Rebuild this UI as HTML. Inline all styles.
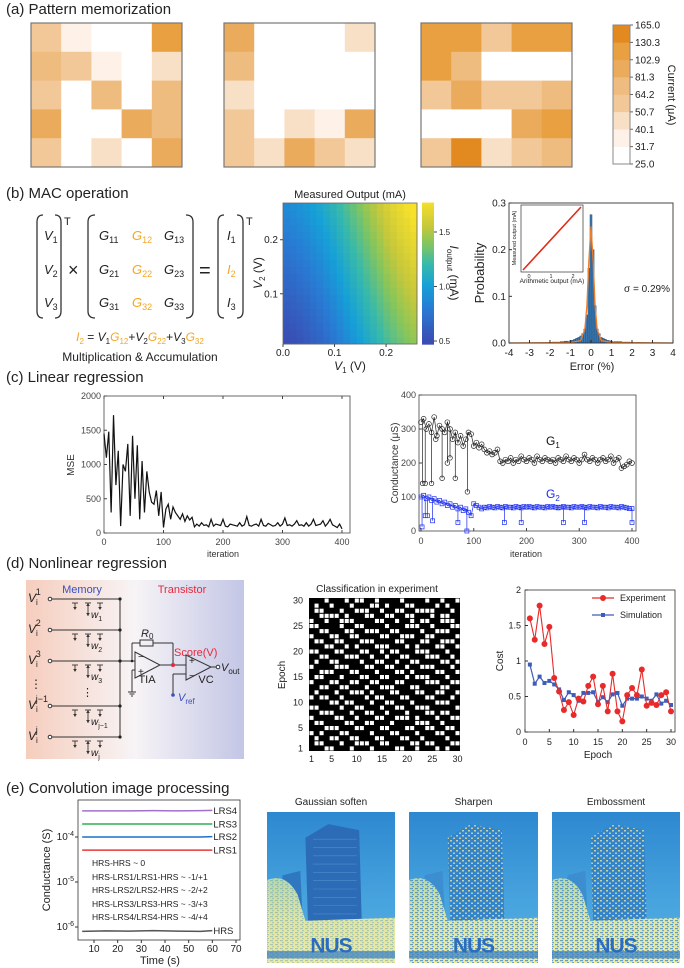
<!DOCTYPE html>
<html><head><meta charset="utf-8">
<style>
body{margin:0;background:#fff;width:684px;height:968px;overflow:hidden}
svg{display:block;font-family:"Liberation Sans",sans-serif}
</style></head>
<body>
<svg id="fig" width="684" height="968" viewBox="0 0 684 968">
<defs>
  <linearGradient id="circBg" x1="0" x2="1" y1="0" y2="0">
    <stop offset="0" stop-color="#f6cdbd"/><stop offset="0.5" stop-color="#f7f4f6"/><stop offset="1" stop-color="#c3c6e6"/>
  </linearGradient>
  <linearGradient id="sky" x1="0" x2="0" y1="0" y2="1">
    <stop offset="0" stop-color="#2e88d0"/><stop offset="0.6" stop-color="#48a4de"/><stop offset="1" stop-color="#58b0e2"/>
  </linearGradient>
  <linearGradient id="ground" x1="0" x2="0" y1="0" y2="1">
    <stop offset="0" stop-color="#b8d8a8"/><stop offset="0.5" stop-color="#e2e6a0"/><stop offset="1" stop-color="#eeeaa0"/>
  </linearGradient>
  <pattern id="speck" width="6" height="5" patternUnits="userSpaceOnUse">
    <rect x="0" y="0" width="2" height="1.5" fill="#f0eaa0"/><rect x="3" y="2.5" width="2" height="1.5" fill="#e8e496"/>
  </pattern>
  <pattern id="speck2" width="5" height="4" patternUnits="userSpaceOnUse">
    <rect x="0" y="0" width="3" height="1.2" fill="#3a86cc"/><rect x="2" y="2" width="2" height="1.2" fill="#4a90cc"/>
  </pattern>
</defs>

<text x="6" y="14" font-size="15" fill="#222">(a) Pattern memorization</text>
<text x="6" y="198" font-size="15" fill="#222">(b) MAC operation</text>
<text x="6" y="382" font-size="15" fill="#222">(c) Linear regression</text>
<text x="6" y="568" font-size="15" fill="#222">(d) Nonlinear regression</text>
<text x="6" y="793" font-size="15" fill="#222">(e) Convolution image processing</text>

<g id="panelA"></g>
<text transform="translate(668,95) rotate(90)" text-anchor="middle" font-size="11" fill="#222">Current (μA)</text>

<g fill="#222" font-size="13">
  <path d="M43 215 Q37 215 37 222 L37 311 Q37 318 43 318" fill="none" stroke="#333" stroke-width="1.3"/>
  <path d="M55 215 Q61 215 61 222 L61 311 Q61 318 55 318" fill="none" stroke="#333" stroke-width="1.3"/>
  <text x="44" y="240" font-style="italic">V<tspan font-size="9" dy="3" font-style="normal">1</tspan></text>
  <text x="44" y="274" font-style="italic">V<tspan font-size="9" dy="3" font-style="normal">2</tspan></text>
  <text x="44" y="307" font-style="italic">V<tspan font-size="9" dy="3" font-style="normal">3</tspan></text>
  <text x="64" y="225" font-size="11">T</text>
  <text x="68" y="276" font-size="18">×</text>
  <path d="M95 215 Q88 215 88 222 L88 311 Q88 318 95 318" fill="none" stroke="#333" stroke-width="1.3"/>
  <path d="M186 215 Q193 215 193 222 L193 311 Q193 318 186 318" fill="none" stroke="#333" stroke-width="1.3"/>
  <text x="99" y="240" font-style="italic">G<tspan font-size="9" dy="3" font-style="normal">11</tspan></text>
  <text x="132" y="240" font-style="italic" fill="#f5a623">G<tspan font-size="9" dy="3" font-style="normal">12</tspan></text>
  <text x="164" y="240" font-style="italic">G<tspan font-size="9" dy="3" font-style="normal">13</tspan></text>
  <text x="99" y="274" font-style="italic">G<tspan font-size="9" dy="3" font-style="normal">21</tspan></text>
  <text x="132" y="274" font-style="italic" fill="#f5a623">G<tspan font-size="9" dy="3" font-style="normal">22</tspan></text>
  <text x="164" y="274" font-style="italic">G<tspan font-size="9" dy="3" font-style="normal">23</tspan></text>
  <text x="99" y="307" font-style="italic">G<tspan font-size="9" dy="3" font-style="normal">31</tspan></text>
  <text x="132" y="307" font-style="italic" fill="#f5a623">G<tspan font-size="9" dy="3" font-style="normal">32</tspan></text>
  <text x="164" y="307" font-style="italic">G<tspan font-size="9" dy="3" font-style="normal">33</tspan></text>
  <text x="199" y="277" font-size="20">=</text>
  <path d="M224 215 Q218 215 218 222 L218 311 Q218 318 224 318" fill="none" stroke="#333" stroke-width="1.3"/>
  <path d="M237 215 Q243 215 243 222 L243 311 Q243 318 237 318" fill="none" stroke="#333" stroke-width="1.3"/>
  <text x="227" y="240" font-style="italic">I<tspan font-size="9" dy="3" font-style="normal">1</tspan></text>
  <text x="227" y="274" font-style="italic" fill="#f5a623">I<tspan font-size="9" dy="3" font-style="normal">2</tspan></text>
  <text x="227" y="307" font-style="italic">I<tspan font-size="9" dy="3" font-style="normal">3</tspan></text>
  <text x="246" y="225" font-size="11">T</text>
  <text x="140" y="341" text-anchor="middle" font-size="12" font-style="italic"><tspan fill="#f5a623">I</tspan><tspan fill="#f5a623" font-size="8" dy="3" font-style="normal">2</tspan><tspan dy="-3" font-style="normal"> = </tspan>V<tspan font-size="8" dy="3" font-style="normal">1</tspan><tspan dy="-3" fill="#f5a623">G</tspan><tspan font-size="8" dy="3" fill="#f5a623" font-style="normal">12</tspan><tspan dy="-3" font-style="normal">+</tspan>V<tspan font-size="8" dy="3" font-style="normal">2</tspan><tspan dy="-3" fill="#f5a623">G</tspan><tspan font-size="8" dy="3" fill="#f5a623" font-style="normal">22</tspan><tspan dy="-3" font-style="normal">+</tspan>V<tspan font-size="8" dy="3" font-style="normal">3</tspan><tspan dy="-3" fill="#f5a623">G</tspan><tspan font-size="8" dy="3" fill="#f5a623" font-style="normal">32</tspan></text>
  <text x="140" y="361" text-anchor="middle" font-size="12">Multiplication &amp; Accumulation</text>
</g>

<text x="350" y="198" text-anchor="middle" font-size="11" fill="#222">Measured Output (mA)</text>
<g id="panelB"></g>
<text transform="translate(262,273) rotate(-90)" text-anchor="middle" font-size="12" fill="#222"><tspan font-style="italic">V</tspan><tspan font-size="8" dy="3">2</tspan><tspan dy="-3"> (V)</tspan></text>
<text x="350" y="370" text-anchor="middle" font-size="12" fill="#222"><tspan font-style="italic">V</tspan><tspan font-size="8" dy="3">1</tspan><tspan dy="-3"> (V)</tspan></text>
<text transform="translate(450,273) rotate(90)" text-anchor="middle" font-size="12" fill="#222"><tspan font-style="italic">I</tspan><tspan font-size="8" dy="3">output</tspan><tspan dy="-3"> (mA)</tspan></text>

<g id="panelHist"></g>
<text transform="translate(484,273) rotate(-90)" text-anchor="middle" font-size="13" fill="#222">Probability</text>
<text x="592" y="370" text-anchor="middle" font-size="11" fill="#222">Error (%)</text>
<text x="647" y="292" text-anchor="middle" font-size="10" fill="#222">σ = 0.29%</text>

<g id="panelMse"></g>
<text transform="translate(74,465) rotate(-90)" text-anchor="middle" font-size="10" fill="#333">MSE</text>
<text x="223" y="557" text-anchor="middle" font-size="9" fill="#333">iteration</text>

<g id="panelCond"></g>
<text transform="translate(398,463) rotate(-90)" text-anchor="middle" font-size="10" fill="#333">Conductance (μS)</text>
<text x="526" y="557" text-anchor="middle" font-size="9" fill="#333">iteration</text>
<text x="546" y="445" font-size="12" fill="#111">G<tspan font-size="8" dy="3">1</tspan></text>
<text x="546" y="498" font-size="12" fill="#1a2cf0">G<tspan font-size="8" dy="3">2</tspan></text>

<g font-size="11" fill="#222">
  <rect x="26" y="580" width="218" height="179" fill="url(#circBg)"/>
  <text x="82" y="593" text-anchor="middle" fill="#3a4fc0" font-size="11">Memory</text>
  <text x="182" y="593" text-anchor="middle" fill="#e8283a" font-size="11">Transistor</text>
  <g stroke="#333" stroke-width="1" fill="none">
    <line x1="120" y1="599" x2="120" y2="737"/>
    <line x1="52" y1="599" x2="120" y2="599"/><line x1="52" y1="630" x2="120" y2="630"/>
    <line x1="52" y1="661" x2="135" y2="661"/><line x1="52" y1="706" x2="120" y2="706"/>
    <line x1="52" y1="737" x2="120" y2="737"/>
    <circle cx="50" cy="599" r="1.8" fill="#fff"/><circle cx="50" cy="630" r="1.8" fill="#fff"/>
    <circle cx="50" cy="661" r="1.8" fill="#fff"/><circle cx="50" cy="706" r="1.8" fill="#fff"/>
    <circle cx="50" cy="737" r="1.8" fill="#fff"/>
    <path d="M135 652 L135 678 L160 665 Z"/>
    <line x1="132" y1="661" x2="132" y2="643"/><line x1="132" y1="643" x2="140" y2="643"/>
    <rect x="140" y="640" width="13" height="6"/>
    <line x1="153" y1="643" x2="173" y2="643"/><line x1="173" y1="643" x2="173" y2="665"/>
    <line x1="160" y1="665" x2="186" y2="665"/>
    <line x1="135" y1="670" x2="132" y2="670"/><line x1="132" y1="670" x2="132" y2="692"/>
    <line x1="128" y1="692" x2="136" y2="692"/><line x1="129.5" y1="694" x2="134.5" y2="694"/><line x1="131" y1="696" x2="133" y2="696"/>
    <path d="M186 655 L186 680 L211 667 Z"/>
    <line x1="211" y1="667" x2="216" y2="667"/><circle cx="218" cy="667" r="1.8" fill="#fff"/>
    <line x1="186" y1="674" x2="173" y2="674"/><line x1="173" y1="674" x2="173" y2="694"/>
  </g>
  <g id="weights"></g>
  <circle cx="120" cy="599" r="1.6" fill="#222"/><circle cx="120" cy="630" r="1.6" fill="#222"/>
  <circle cx="120" cy="661" r="1.6" fill="#222"/><circle cx="120" cy="706" r="1.6" fill="#222"/>
  <circle cx="120" cy="737" r="1.6" fill="#222"/><circle cx="132" cy="661" r="1.3" fill="#222"/>
  <circle cx="173" cy="665" r="2" fill="#e8283a"/><circle cx="173" cy="695" r="1.8" fill="#3a4fc0"/>
  <text x="138" y="660" font-size="10">−</text><text x="138" y="675" font-size="10">+</text>
  <text x="189" y="664" font-size="10">+</text><text x="189" y="679" font-size="10">−</text>
  <text x="141" y="637" font-style="italic" font-size="11">R<tspan font-size="8" dy="2" font-style="normal">0</tspan></text>
  <text x="174" y="656" fill="#e8283a" font-size="11">Score(V)</text>
  <text x="147" y="683" text-anchor="middle">TIA</text>
  <text x="206" y="683" text-anchor="middle">VC</text>
  <text x="221" y="671" font-style="italic" font-size="11">V<tspan font-size="8" dy="3" font-style="normal">out</tspan></text>
  <text x="178" y="701" font-style="italic" fill="#3a4fc0" font-size="11">V<tspan font-size="8" dy="3" font-style="normal">ref</tspan></text>
  <text x="28" y="602" font-style="italic" font-size="12">V<tspan font-size="8" dy="3" font-style="normal">i</tspan><tspan font-size="9" dy="-10" font-style="normal" dx="-2">1</tspan></text>
  <text x="28" y="633" font-style="italic" font-size="12">V<tspan font-size="8" dy="3" font-style="normal">i</tspan><tspan font-size="9" dy="-10" font-style="normal" dx="-2">2</tspan></text>
  <text x="28" y="664" font-style="italic" font-size="12">V<tspan font-size="8" dy="3" font-style="normal">i</tspan><tspan font-size="9" dy="-10" font-style="normal" dx="-2">3</tspan></text>
  <text x="30" y="688" font-size="12">⋮</text>
  <text x="82" y="696" font-size="11">⋮</text>
  <text x="28" y="709" font-style="italic" font-size="12">V<tspan font-size="8" dy="3" font-style="normal">i</tspan><tspan font-size="9" dy="-10" font-style="normal" dx="-2">j−1</tspan></text>
  <text x="28" y="740" font-style="italic" font-size="12">V<tspan font-size="8" dy="3" font-style="normal">i</tspan><tspan font-size="9" dy="-10" font-style="normal" dx="-2">j</tspan></text>
</g>

<text x="377" y="592" text-anchor="middle" font-size="10" fill="#222">Classification in experiment</text>
<g id="panelGrid"></g>
<text transform="translate(285,675) rotate(-90)" text-anchor="middle" font-size="10" fill="#222">Epoch</text>

<g id="panelCost"></g>
<text transform="translate(503,661) rotate(-90)" text-anchor="middle" font-size="10" fill="#222">Cost</text>
<text x="598" y="758" text-anchor="middle" font-size="10" fill="#222">Epoch</text>

<g id="panelE"></g>
<text transform="translate(50,870) rotate(-90)" text-anchor="middle" font-size="11" fill="#222">Conductance (S)</text>
<text x="160" y="964" text-anchor="middle" font-size="11" fill="#222">Time (s)</text>
<g font-size="8.5" fill="#222">
  <text x="92" y="866">HRS-HRS ~ 0</text>
  <text x="92" y="880">HRS-LRS1/LRS1-HRS  ~ -1/+1</text>
  <text x="92" y="893">HRS-LRS2/LRS2-HRS  ~ -2/+2</text>
  <text x="92" y="907">HRS-LRS3/LRS3-HRS  ~ -3/+3</text>
  <text x="92" y="920">HRS-LRS4/LRS4-HRS  ~ -4/+4</text>
</g>

<g id="photos"></g>

</svg>
<script>
const NS='http://www.w3.org/2000/svg';
function mk(tag,attrs,parent){const e=document.createElementNS(NS,tag);for(const k in attrs)e.setAttribute(k,attrs[k]);parent.appendChild(e);return e;}
function lin(d0,d1,r0,r1){return v=>r0+(v-d0)*(r1-r0)/(d1-d0);}

/* ---------- (a) data ---------- */
const patternA=[[58,35,28,28,115],[70,58,35,28,45],[58,28,70,28,70],[90,28,28,90,70],[58,28,45,28,90]];
const patternB=[[90,28,28,28,45],[70,28,28,28,28],[45,28,28,28,28],[58,28,45,35,90],[58,45,90,58,45]];
const patternC=[[115,115,58,115,115],[115,70,28,28,28],[58,90,58,58,70],[28,28,28,90,115],[58,150,45,58,70]];
const currentTicks=[25,31.7,40.1,50.7,64.2,81.3,102.9,130.3,165];
const currentTickLabels=['25.0','31.7','40.1','50.7','64.2','81.3','102.9','130.3','165.0'];
const bandColors=['#ffffff','#fdf1e8','#f8e0c6','#f2c898','#efbc80','#ebab5d','#e8a040','#e28a20'];
function bandIndex(v){for(let i=0;i<8;i++){if(v<currentTicks[i+1])return i;}return 7;}

/* ---------- (b) data ---------- */
const v1Edges=[0,0.013,0.026,0.039,0.052,0.065,0.078,0.091,0.104,0.117,0.13,0.143,0.156,0.169,0.182,0.195,0.208,0.221,0.234,0.247,0.26];
const v2Edges=[0.007,0.02,0.033,0.046,0.059,0.072,0.085,0.098,0.111,0.124,0.137,0.15,0.163,0.176,0.189,0.202,0.215,0.228,0.241,0.254,0.268];
const colBase=[0.50,0.52,0.55,0.58,0.62,0.66,0.71,0.76,0.82,0.88,0.94,1.00,1.06,1.12,1.18,1.24,1.29,1.34,1.38,1.42];
const rowOffset=[0,0.02,0.04,0.06,0.08,0.10,0.12,0.14,0.16,0.18,0.20,0.22,0.24,0.26,0.28,0.30,0.32,0.34,0.36,0.38];
const macXTicks=[0,0.1,0.2], macYTicks=[0.1,0.2], macCbarTicks=[0.5,1.0,1.5];
const histBins=[-2,-1.8,-1.6,-1.4,-1.2,-1.0,-0.9,-0.8,-0.7,-0.6,-0.5,-0.4,-0.3,-0.2,-0.1,0,0.1,0.2,0.3,0.4,0.5,0.6,0.7,0.8,0.9,1.0,1.2,1.4,1.6,1.8,2.0];
const histProb=[0.001,0.002,0.002,0.003,0.004,0.005,0.006,0.008,0.01,0.012,0.015,0.02,0.03,0.06,0.16,0.275,0.2,0.08,0.03,0.02,0.012,0.01,0.008,0.006,0.005,0.004,0.003,0.003,0.002,0.002,0.001];
const fitX=[-4,-1,-0.5,-0.3,-0.2,-0.1,0,0.1,0.2,0.3,0.5,1,4];
const fitY=[0,0.001,0.005,0.03,0.08,0.18,0.25,0.18,0.08,0.03,0.005,0.001,0];
const histXTicks=[-4,-3,-2,-1,0,1,2,3,4], histYTicks=[0,0.1,0.2,0.3];

/* ---------- (c) data ---------- */
const mseValues=[1450,1100,1480,300,1720,700,1200,100,1000,900,1300,250,1420,500,1280,200,1050,300,900,600,450,420,620,250,600,80,350,420,200,380,300,250,200,280,170,250,190,230,90,130,100,150,110,120,90,200,100,130,120,110,200,100,90,130,120,110,100,150,100,120,240,110,100,120,130,100,200,110,100,140,120,100,110,150,100,130,220,110,120,100,130,180,110,120,100,150,100,130,200,110,120,130,180,100,140,200,120,100,80,130,60];
const g1Values=[320,330,300,315,290,335,280,310,300,290,320,300,270,290,260,280,250,270,290,285,250,260,245,255,240,230,235,225,230,240,205,200,210,205,215,200,210,205,220,210,205,215,210,200,220,210,205,215,210,205,210,200,215,210,205,220,210,205,215,210,200,210,225,210,205,215,210,200,210,215,205,210,220,200,210,215,185,190,195,205,200];
const g2Values=[100,105,95,100,90,95,85,90,80,85,75,80,70,75,65,70,60,65,55,45,80,75,70,65,70,68,72,70,68,72,70,68,72,70,70,68,72,70,68,72,70,72,70,68,72,70,70,68,72,70,72,70,68,70,72,70,70,68,72,70,70,72,70,68,72,70,70,68,72,70,70,68,72,70,70,68,72,70,68,66,66];
const g1DropIter=[3,8,20,28,40,50,55,65,88], g1DropVal=[140,140,140,270,155,200,215,155,115];
const g2DropIter=[2,8,12,22,70,87,158,190,270,310,400], g2DropVal=[12,45,45,30,25,0,25,25,25,25,25];
const iterTicks=[0,100,200,300,400], mseTicks=[0,500,1000,1500,2000], condTicks=[0,100,200,300,400];

/* ---------- (d) data ---------- */
const classRows=[
'111011101001101111011110110110','101101110111001011100111101011','100111011000110110011000011101',
'110000101110011001100111010011','011011000111100110110100110001','001111011001111011100011011100',
'110011100110001100111101100011','011100110011110011000110011110','100110011100011110011100110001',
'111001101011100011101011100110','001110011100110100111000111011','110011100011011011001110001101',
'101100111101100110110011110010','011110001110011001101100011101','110001110011101110010111100110',
'100111011100110011101000111011','011100110011001110011110001100','110011001110110001110011110011',
'101110110001011100111001100110','010011011110100111001110011101','111100100111011001110111100011',
'001111011001110110011000111110','110001110110011011101110010011','011110011011100110001011101100',
'100111100110011101111000110111','111000111001110011100110011001','010111001111011100111011100110',
'101100110011100111001101111011','100111011000110011110010011100','111001110111011110011011101011'];
const epochs=[1,2,3,4,5,6,7,8,9,10,11,12,13,14,15,16,17,18,19,20,21,22,23,24,25,26,27,28,29,30];
const costExp=[1.6,1.3,1.78,1.24,1.48,0.76,0.57,0.31,0.42,0.24,0.47,0.43,0.65,0.78,0.39,0.65,0.29,0.82,0.29,0.15,0.52,0.62,0.52,0.88,0.37,0.41,0.38,0.52,0.56,0.29];
const costSim=[0.95,0.68,0.78,0.69,0.72,0.67,0.6,0.45,0.56,0.52,0.44,0.55,0.55,0.56,0.42,0.49,0.42,0.53,0.55,0.37,0.47,0.47,0.47,0.5,0.47,0.44,0.53,0.4,0.44,0.38];
const gridTicks=[1,5,10,15,20,25,30], costXTicks=[0,5,10,15,20,25,30], costYTicks=[0,0.5,1,1.5,2];
const costYTickLabels=['0','0.5','1','1.5','2'];

/* ---------- (e) data ---------- */
const timePts=[5,15,25,35,45,55,60];
const lrs4=[3.8e-4,3.8e-4,3.8e-4,3.85e-4,3.8e-4,3.85e-4,3.9e-4];
const lrs3=[1.95e-4,1.95e-4,1.95e-4,1.95e-4,1.95e-4,1.95e-4,1.95e-4];
const lrs2=[1.0e-4,1.0e-4,1.0e-4,1.0e-4,1.0e-4,1.0e-4,1.02e-4];
const lrs1=[5.1e-5,5.1e-5,5.1e-5,5.1e-5,5.1e-5,5.1e-5,5.1e-5];
const hrs=[8.0e-7,8.2e-7,8.1e-7,8.3e-7,8.1e-7,8.0e-7,8.3e-7];
const timeTicks=[10,20,30,40,50,60,70], condExpTicks=[-6,-5,-4];

/* ===== draw (a) ===== */
(function(){
  const g=document.getElementById('panelA');
  const pats=[patternA,patternB,patternC], lefts=[31,224,421];
  pats.forEach((p,pi)=>{
    const x0=lefts[pi], y0=23, cw=151/5, ch=144/5;
    p.forEach((row,r)=>row.forEach((v,c)=>{
      const el=mk('rect',{x:x0+c*cw,y:y0+r*ch,width:cw+0.5,height:ch+0.5,fill:bandColors[bandIndex(v)]},g);
      
      
    }));
    const b=mk('rect',{x:x0,y:y0,width:151,height:144,fill:'none',stroke:'#777','stroke-width':1.2},g);
    
    
  });
  const cy=lin(0,8,164,25);
  for(let i=0;i<8;i++){
    const el=mk('rect',{x:613,y:cy(i+1),width:17,height:cy(i)-cy(i+1)+0.3,fill:bandColors[i]},g);
    
    
  }
  mk('rect',{x:613,y:25,width:17,height:139,fill:'none',stroke:'#888','stroke-width':1},g);
  currentTickLabels.forEach((t,i)=>{
    mk('line',{x1:630,x2:633,y1:cy(i),y2:cy(i),stroke:'#666'},g);
    const tx=mk('text',{x:635,y:cy(i)+3.5,'font-size':10,fill:'#222'},g);
    tx.textContent=t;
    
    
  });
})();

/* ===== draw (b) heatmap ===== */
const parulaStops=[[0.5,[58,77,180]],[0.8,[40,124,212]],[1.0,[22,160,216]],[1.2,[56,186,170]],[1.4,[136,198,90]],[1.55,[200,200,58]],[1.78,[248,225,42]]];
function parula(v){
  if(v<=parulaStops[0][0])return 'rgb('+parulaStops[0][1]+')';
  for(let i=1;i<parulaStops.length;i++){
    if(v<=parulaStops[i][0]){const a=parulaStops[i-1],b=parulaStops[i],t=(v-a[0])/(b[0]-a[0]);
      return 'rgb('+a[1].map((c,k)=>Math.round(c+(b[1][k]-c)*t)).join(',')+')';}
  }
  return 'rgb('+parulaStops[parulaStops.length-1][1]+')';
}
(function(){
  const g=document.getElementById('panelB');
  const sx=lin(0,0.26,283,417), sy=lin(0.007,0.268,344,203);
  for(let c=0;c<colBase.length;c++){for(let r=0;r<rowOffset.length;r++){
    const x=sx(v1Edges[c]), y=sy(v2Edges[r+1]);
    const el=mk('rect',{x:x,y:y,width:sx(v1Edges[c+1])-x+0.4,height:sy(v2Edges[r])-y+0.4,fill:parula(colBase[c]+rowOffset[r])},g);
    
    
  }}
  mk('rect',{x:283,y:203,width:134,height:141,fill:'none',stroke:'#666','stroke-width':0.8},g);
  macXTicks.forEach(t=>{
    mk('line',{x1:sx(t),x2:sx(t),y1:344,y2:347,stroke:'#444'},g);
    const tx=mk('text',{x:sx(t),y:356,'font-size':10,'text-anchor':'middle',fill:'#222'},g);tx.textContent=t.toFixed(1);
    
    
  });
  macYTicks.forEach(t=>{
    mk('line',{x1:280,x2:283,y1:sy(t),y2:sy(t),stroke:'#444'},g);
    const tx=mk('text',{x:278,y:sy(t)+3.5,'font-size':10,'text-anchor':'end',fill:'#222'},g);tx.textContent=t.toFixed(1);
    
    
  });
  const cby=lin(0.5,1.5,341,232);
  for(let v=0.47;v<1.77;v+=0.02){
    const el=mk('rect',{x:422,y:cby(v+0.02),width:12,height:cby(v)-cby(v+0.02)+0.4,fill:parula(v)},g);
    
    
  }
  macCbarTicks.forEach(t=>{
    mk('line',{x1:434,x2:437,y1:cby(t),y2:cby(t),stroke:'#444'},g);
    const tx=mk('text',{x:439,y:cby(t)+3,'font-size':8,fill:'#222'},g);tx.textContent=t.toFixed(1);
    
    
  });
})();

/* ===== histogram ===== */
(function(){
  const g=document.getElementById('panelHist');
  const sx=lin(-4,4,509,673), sy=lin(0,0.3,343,203);
  histBins.forEach((b,i)=>{
    const w=(i>0&&i<histBins.length-1)?Math.min(histBins[i+1]-b,b-histBins[i-1]):0.2;
    const el=mk('rect',{x:sx(b-w/2),y:sy(histProb[i]),width:sx(w)-sx(0),height:343-sy(histProb[i]),fill:'#3a7ab4',stroke:'#1d3f66','stroke-width':0.4},g);
    
    
  });
  const fit=mk('polyline',{points:fitX.map((x,i)=>sx(x)+','+sy(fitY[i])).join(' '),fill:'none',stroke:'#f07c28','stroke-width':1.3},g);
  
  
  mk('rect',{x:509,y:203,width:164,height:140,fill:'none',stroke:'#333','stroke-width':0.9},g);
  histXTicks.forEach(t=>{
    mk('line',{x1:sx(t),x2:sx(t),y1:343,y2:340,stroke:'#333'},g);
    const tx=mk('text',{x:sx(t),y:356,'font-size':10,'text-anchor':'middle',fill:'#222'},g);tx.textContent=String(t);
    
    
  });
  histYTicks.forEach(t=>{
    mk('line',{x1:509,x2:512,y1:sy(t),y2:sy(t),stroke:'#333'},g);
    const tx=mk('text',{x:506,y:sy(t)+3.5,'font-size':10,'text-anchor':'end',fill:'#222'},g);tx.textContent=t.toFixed(1);
    
    
  });
  const ins=mk('g',{},g);
  
  
  mk('rect',{x:521,y:205,width:62,height:67,fill:'#fff',stroke:'#333','stroke-width':0.7},ins);
  mk('line',{x1:523,y1:270,x2:581,y2:207,stroke:'#e02a1a','stroke-width':1.6},ins);
  [['0',529],['1',551],['2',573]].forEach(a=>{const t=mk('text',{x:a[1],y:278,'font-size':5.5,'text-anchor':'middle',fill:'#222'},ins);t.textContent=a[0];});
  const it=mk('text',{x:552,y:283,'font-size':6.5,'text-anchor':'middle',fill:'#222'},ins);it.textContent='Arithmetic output (mA)';
  const iy=mk('text',{transform:'translate(516,238) rotate(-90)','font-size':5.5,'text-anchor':'middle',fill:'#222'},ins);iy.textContent='Measured output (mA)';
})();

/* ===== MSE ===== */
(function(){
  const g=document.getElementById('panelMse');
  const sx=lin(0,400,104,342), sy=lin(0,2000,533,396);
  mk('rect',{x:104,y:396,width:246,height:137,fill:'#fff',stroke:'#444','stroke-width':0.8},g);
  const step=400/(mseValues.length-1);
  const ln=mk('polyline',{points:mseValues.map((v,i)=>sx(i*step)+','+sy(v)).join(' '),fill:'none',stroke:'#111','stroke-width':1.2},g);
  
  
  iterTicks.forEach(t=>{
    mk('line',{x1:sx(t),x2:sx(t),y1:533,y2:530,stroke:'#444'},g);
    mk('line',{x1:sx(t),x2:sx(t),y1:396,y2:399,stroke:'#444'},g);
    const tx=mk('text',{x:sx(t),y:545,'font-size':9,'text-anchor':'middle',fill:'#444'},g);tx.textContent=String(t);
    
    
  });
  mseTicks.forEach(t=>{
    mk('line',{x1:104,x2:107,y1:sy(t),y2:sy(t),stroke:'#444'},g);
    const tx=mk('text',{x:101,y:sy(t)+3,'font-size':9,'text-anchor':'end',fill:'#444'},g);tx.textContent=String(t);
    
    
  });
})();

/* ===== conductance G1/G2 ===== */
(function(){
  const g=document.getElementById('panelCond');
  const sx=lin(0,400,421,632), sy=lin(0,400,531,395);
  mk('rect',{x:419,y:395,width:217,height:136,fill:'#fff',stroke:'#444','stroke-width':0.8},g);
  function series(vals,color,shape,name,dropI,dropV){
    const step=400/(vals.length-1);
    const ln=mk('polyline',{points:vals.map((v,i)=>sx(i*step)+','+sy(v)).join(' '),fill:'none',stroke:color,'stroke-width':0.7},g);
    
    
    dropI.forEach((it,k)=>{
      const base=vals[Math.min(vals.length-1,Math.round(it/step))];
      mk('line',{x1:sx(it),x2:sx(it),y1:sy(base),y2:sy(dropV[k]),stroke:color,'stroke-width':0.7},g);
      const m=shape==='c'?mk('circle',{cx:sx(it),cy:sy(dropV[k]),r:2.3,fill:'none',stroke:color,'stroke-width':0.7},g):mk('rect',{x:sx(it)-2,y:sy(dropV[k])-2,width:4,height:4,fill:'none',stroke:color,'stroke-width':0.7},g);
      
      
    });
    vals.forEach((v,i)=>{
      const m=shape==='c'?mk('circle',{cx:sx(i*step),cy:sy(v),r:2.4,fill:'none',stroke:color,'stroke-width':0.7},g):mk('rect',{x:sx(i*step)-2,y:sy(v)-2,width:4,height:4,fill:'none',stroke:color,'stroke-width':0.7},g);
      
      
    });
  }
  series(g1Values,'#222','c','g1',g1DropIter,g1DropVal);
  series(g2Values,'#1a2cf0','s','g2',g2DropIter,g2DropVal);
  iterTicks.forEach(t=>{
    mk('line',{x1:sx(t),x2:sx(t),y1:531,y2:528,stroke:'#444'},g);
    const tx=mk('text',{x:sx(t),y:544,'font-size':9,'text-anchor':'middle',fill:'#444'},g);tx.textContent=String(t);
    
    
  });
  condTicks.forEach(t=>{
    mk('line',{x1:419,x2:422,y1:sy(t),y2:sy(t),stroke:'#444'},g);
    const tx=mk('text',{x:416,y:sy(t)+3,'font-size':9,'text-anchor':'end',fill:'#444'},g);tx.textContent=String(t);
    
    
  });
})();

/* ===== circuit weights ===== */
(function(){
  const g=document.getElementById('weights');
  const rows=[[599,'1'],[630,'2'],[661,'3'],[706,'j−1'],[737,'j']];
  rows.forEach(r=>{
    const y=r[0];
    [75,100].forEach(x=>{
      mk('line',{x1:x-3,x2:x+3,y1:y+4,y2:y+4,stroke:'#333','stroke-width':0.9},g);
      mk('line',{x1:x,x2:x,y1:y+4,y2:y+10,stroke:'#333','stroke-width':0.9},g);
      mk('path',{d:`M${x-1.8} ${y+8} L${x+1.8} ${y+8} L${x} ${y+11} Z`,fill:'#333'},g);
    });
    mk('line',{x1:85,x2:91,y1:y+4,y2:y+4,stroke:'#333','stroke-width':0.9},g);
    mk('line',{x1:88,x2:88,y1:y+4,y2:y+17,stroke:'#333','stroke-width':0.9},g);
    mk('path',{d:`M86.2 ${y+7} L89.8 ${y+7} L88 ${y+4} Z`,fill:'#333'},g);
    mk('path',{d:`M86.2 ${y+14} L89.8 ${y+14} L88 ${y+17} Z`,fill:'#333'},g);
    const t=mk('text',{x:91,y:y+19,'font-size':10,'font-style':'italic',fill:'#222'},g);
    t.textContent='w';
    const s=mk('tspan',{'font-size':7,dy:3,'font-style':'normal'},t);s.textContent=r[1];
    
    
  });
})();

/* ===== classification grid ===== */
(function(){
  const g=document.getElementById('panelGrid');
  const x0=309,x1=460,y0=598,y1=751;
  const sx=lin(0.5,30.5,x0,x1), sy=lin(0.5,30.5,y1,y0);
  mk('rect',{x:x0,y:y0,width:x1-x0,height:y1-y0,fill:'#000'},g);
  classRows.forEach((row,ri)=>{
    const ep=30-ri;
    for(let c=0;c<row.length;c++){
      if(row[c]==='0'){
        const el=mk('rect',{x:sx(c+0.5)+0.5,y:sy(ep+0.5)+0.5,width:sx(1)-sx(0)-1,height:sy(0)-sy(1)-1,fill:'#fff'},g);
        
        
      }
    }
  });
  gridTicks.forEach(t=>{
    const a=mk('text',{x:sx(t),y:762,'font-size':9,'text-anchor':'middle',fill:'#222'},g);a.textContent=String(t);
    
    
    const b=mk('text',{x:303,y:sy(t)+3,'font-size':9,'text-anchor':'end',fill:'#222'},g);b.textContent=String(t);
    
    
  });
})();

/* ===== cost chart ===== */
(function(){
  const g=document.getElementById('panelCost');
  const sx=lin(0,30,525,671), sy=lin(0,2,732,590);
  mk('rect',{x:525,y:590,width:150,height:142,fill:'#fff',stroke:'#333','stroke-width':0.8},g);
  const ls=mk('polyline',{points:epochs.map((e,i)=>sx(e)+','+sy(costSim[i])).join(' '),fill:'none',stroke:'#3f5cb8','stroke-width':1.2},g);
  
  
  epochs.forEach((e,i)=>{
    const m=mk('rect',{x:sx(e)-2,y:sy(costSim[i])-2,width:4,height:4,fill:'#3f5cb8'},g);
    
    
  });
  const le=mk('polyline',{points:epochs.map((e,i)=>sx(e)+','+sy(costExp[i])).join(' '),fill:'none',stroke:'#e82a2a','stroke-width':1.1},g);
  
  
  epochs.forEach((e,i)=>{
    const m=mk('circle',{cx:sx(e),cy:sy(costExp[i]),r:3,fill:'#e82a2a'},g);
    
    
  });
  costXTicks.forEach(t=>{
    mk('line',{x1:sx(t),x2:sx(t),y1:732,y2:729,stroke:'#333'},g);
    const tx=mk('text',{x:sx(t),y:745,'font-size':9,'text-anchor':'middle',fill:'#222'},g);tx.textContent=String(t);
    
    
  });
  costYTicks.forEach((t,i)=>{
    mk('line',{x1:525,x2:528,y1:sy(t),y2:sy(t),stroke:'#333'},g);
    const tx=mk('text',{x:521,y:sy(t)+3,'font-size':9,'text-anchor':'end',fill:'#222'},g);tx.textContent=costYTickLabels[i];
    
    
  });
  const lg=mk('g',{},g);
  
  
  mk('line',{x1:592,x2:614,y1:598,y2:598,stroke:'#e82a2a','stroke-width':1.2},lg);
  mk('circle',{cx:603,cy:598,r:3,fill:'#e82a2a'},lg);
  const t1=mk('text',{x:620,y:601,'font-size':9,fill:'#222'},lg);t1.textContent='Experiment';
  mk('line',{x1:592,x2:614,y1:615,y2:615,stroke:'#3f5cb8','stroke-width':1.2},lg);
  mk('rect',{x:601,y:613,width:4,height:4,fill:'#3f5cb8'},lg);
  const t2=mk('text',{x:620,y:618,'font-size':9,fill:'#222'},lg);t2.textContent='Simulation';
})();

/* ===== (e) conductance states ===== */
(function(){
  const g=document.getElementById('panelE');
  const sx=lin(10,70,94,236), sy=lin(-4,-6,837,927);
  mk('rect',{x:78,y:800,width:162,height:140,fill:'#fff',stroke:'#333','stroke-width':0.8},g);
  const series=[[lrs4,'#a070cc','LRS4'],[lrs3,'#2eb050','LRS3'],[lrs2,'#1f6fc8','LRS2'],[lrs1,'#e83838','LRS1'],[hrs,'#555','HRS']];
  series.forEach(s=>{
    const ln=mk('polyline',{points:timePts.map((t,i)=>sx(t)+','+sy(Math.log10(s[0][i]))).join(' '),fill:'none',stroke:s[1],'stroke-width':1.5},g);
    
    
    const tx=mk('text',{x:sx(timePts[timePts.length-1])+1,y:sy(Math.log10(s[0][s[0].length-1]))+3.5,'font-size':9.5,fill:'#222'},g);
    tx.textContent=s[2];
    
    
  });
  timeTicks.forEach(t=>{
    mk('line',{x1:sx(t),x2:sx(t),y1:940,y2:943,stroke:'#333'},g);
    const tx=mk('text',{x:sx(t),y:952,'font-size':10,'text-anchor':'middle',fill:'#222'},g);tx.textContent=String(t);
    
    
  });
  condExpTicks.forEach(e=>{
    mk('line',{x1:75,x2:78,y1:sy(e),y2:sy(e),stroke:'#333'},g);
    const tx=mk('text',{x:74,y:sy(e)+3,'font-size':10,'text-anchor':'end',fill:'#222'},g);
    tx.textContent='10';
    const sp=mk('tspan',{'font-size':7,dy:-4},tx);sp.textContent=String(e);
    
    
  });
})();

/* ===== photos ===== */
(function(){
  const g=document.getElementById('photos');
  const pics=[[267,128,'Gaussian soften',0],[409,129,'Sharpen',1],[552,128,'Embossment',1]];
  pics.forEach(p=>{
    const x=p[0],w=p[1],y=812,h=151,tex=p[3];
    const P=(a,b)=>(x+a*w).toFixed(1)+','+(y+b*h).toFixed(1);
    const pg=mk('g',{},g);
    
    
    const tt=mk('text',{x:x+w/2,y:805,'text-anchor':'middle','font-size':10,fill:'#222'},pg);tt.textContent=p[2];
    mk('rect',{x:x,y:y,width:w,height:h,fill:'url(#sky)'},pg);
    mk('polygon',{points:[P(0.12,0.42),P(0.26,0.39),P(0.28,0.72),P(0.12,0.72)].join(' '),fill:tex?'#3c8ed0':'#2f78c0'},pg);
    const bpts=[P(0.3,0.17),P(0.48,0.08),P(0.72,0.12),P(0.74,0.72),P(0.32,0.74)].join(' ');
    mk('polygon',{points:bpts,fill:tex?'#3484cc':'#2c6cb6'},pg);
    if(tex){mk('polygon',{points:bpts,fill:'url(#speck)',opacity:0.75},pg);}
    else{for(let k=0;k<10;k++){mk('line',{x1:x+0.36*w,x2:x+0.7*w,y1:y+(0.18+k*0.055)*h,y2:y+(0.18+k*0.055)*h,stroke:'#4d8ecc','stroke-width':0.6},pg);}}
    mk('path',{d:`M${P(0,0.45)} Q${P(0.15,0.4)} ${P(0.24,0.55)} L${P(0.3,0.72)} L${P(1,0.7)} L${P(1,1)} L${P(0,1)} Z`,fill:'url(#ground)'},pg);
    mk('path',{d:`M${P(0,0.45)} Q${P(0.15,0.4)} ${P(0.24,0.55)} L${P(0.3,0.72)} L${P(1,0.7)} L${P(1,1)} L${P(0,1)} Z`,fill:'url(#speck2)',opacity:tex?0.75:0.35},pg);
    mk('rect',{x:x,y:y+0.92*h,width:w,height:0.05*h,fill:'#3b82c4',opacity:0.75},pg);
    const nus=mk('text',{x:x+0.5*w,y:y+0.93*h,'text-anchor':'middle','font-size':21,'font-weight':'bold',fill:'#2a6cc0','letter-spacing':'-1'},pg);nus.textContent='NUS';
  });
})();
</script>
</body></html>
